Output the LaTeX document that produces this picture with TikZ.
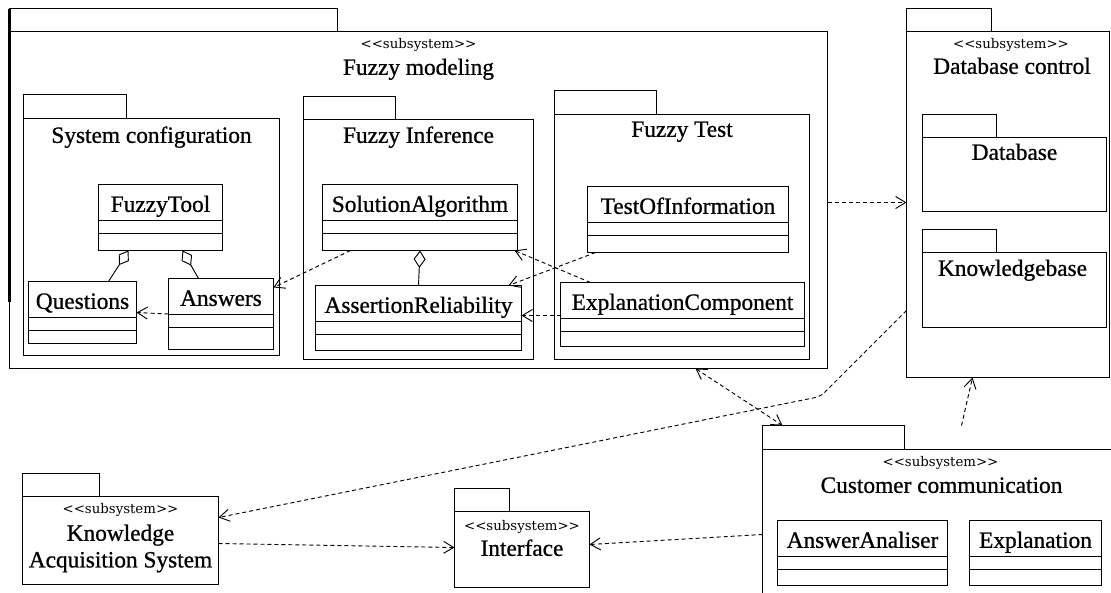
\documentclass[tikz,border=0pt]{standalone}
\usepackage{fontspec}
\setmainfont{Liberation Serif}
\newfontfamily\umlfont{Liberation Serif}[FakeBold=0.8]
\newfontfamily\stereofont{DejaVu Serif}
\usetikzlibrary{arrows.meta,calc,fit}

\tikzset{
  pkgbox/.style={draw,inner sep=0pt,outer sep=0pt,line width=0.75pt},
  classbox/.style={draw,inner sep=0pt,outer sep=0pt,line width=0.75pt},
  title/.style={inner sep=0pt,font=\umlfont\fontsize{17.5pt}{20pt}\selectfont,text height=14pt,text depth=3pt},
  twolines/.style={inner sep=0pt,font=\umlfont\fontsize{17.5pt}{20pt}\selectfont,align=center},
  stereo/.style={inner sep=0pt,font=\stereofont\fontsize{10pt}{11pt}\selectfont,text height=8.5pt,text depth=1.5pt},
  barb/.tip={Straight Barb[length=7.5pt,width=9pt,line width=0.7pt]},
  dep/.style={line width=0.7pt,dash pattern=on 3pt off 2.25pt,-barb},
  depboth/.style={line width=0.7pt,dash pattern=on 3pt off 2.25pt,barb-barb},
  aggr/.style={line width=0.7pt,-{Diamond[open,length=13pt,width=9pt,line width=0.7pt]}}
}

% id, tab corner, tab/body corner, body corner
\newcommand{\umlpkg}[4]{%
  \node[pkgbox,fit={#2 #3}] (#1-tab) {};
  \node[pkgbox,fit={(#1-tab.south west) #4}] (#1) {};
}
% id, corner, corner, name
\newcommand{\umlclass}[4]{%
  \node[classbox,fit={#2 #3}] (#1) {};
  \node[title] (#1-name) at ($(#1.north)+(0,20)$) {#4};
  \draw[line width=0.75pt] ($(#1.north west)+(0,36)$) -- ($(#1.north east)+(0,36)$);
  \draw[line width=0.75pt] ($(#1.north west)+(0,49)$) -- ($(#1.north east)+(0,49)$);
}

\begin{document}
\begin{tikzpicture}[x=0.75pt,y=-0.75pt]
  \fill[white] (0,0) rectangle (1111,593);
  \clip (0,0) rectangle (1111,593);
  \begin{scope}[shift={(0.5,0.5)}]

  % packages
  \umlpkg{fuzzy}{(9,8)}{(337,31)}{(827,368)}
  \draw[line width=2pt] (fuzzy-tab.north west) -- ($(fuzzy-tab.north west)+(0,293)$);
  \node[stereo] (fuzzy-st) at ($(fuzzy.north)+(0,12)$) {<<subsystem>>};
  \node[title] (fuzzy-title) at ($(fuzzy.north)+(0,36)$) {Fuzzy modeling};

  \umlpkg{sysconf}{(23,94)}{(126,118)}{(279,355)}
  \node[title] (sysconf-title) at ($(sysconf.north)+(0,17)$) {System configuration};
  \umlpkg{fuzzyinf}{(303,96)}{(395,119)}{(533,359)}
  \node[title] (fuzzyinf-title) at ($(fuzzyinf.north)+(0,16)$) {Fuzzy Inference};
  \umlpkg{fuzzytest}{(554,90)}{(656,114)}{(809,359)}
  \node[title] (fuzzytest-title) at ($(fuzzytest.north)+(0,15)$) {Fuzzy Test};

  \umlpkg{dbctl}{(906,8)}{(991,31)}{(1109,377)}
  \node[stereo] (dbctl-st) at ($(dbctl.north)+(3,12)$) {<<subsystem>>};
  \node[title] (dbctl-title) at ($(dbctl.north)+(4,35)$) {Database control};
  \umlpkg{database}{(922,114)}{(996,137)}{(1106,211)}
  \node[title] (database-title) at ($(database.north)+(0,15)$) {Database};
  \umlpkg{kbase}{(922,229)}{(996,252)}{(1106,327)}
  \node[title] (kbase-title) at ($(kbase.north)+(-2,16)$) {Knowledgebase};

  \umlpkg{cust}{(762,425)}{(904,449)}{(1125,620)}
  \node[stereo] (cust-st) at ($(cust.north west)+(178,12)$) {<<subsystem>>};
  \node[title] (cust-title) at ($(cust.north west)+(179,36)$) {Customer communication};

  \umlpkg{iface}{(454,488)}{(509,511)}{(589,587)}
  \node[stereo] (iface-st) at ($(iface.north)+(0,14)$) {<<subsystem>>};
  \node[title] (iface-title) at ($(iface.north)+(0,37)$) {Interface};

  \umlpkg{kas}{(22,473)}{(99,496)}{(218,584)}
  \node[stereo] (kas-st) at ($(kas.north)+(0,12)$) {<<subsystem>>};
  \node[twolines] (kas-title) at ($(kas.north)+(0,52)$) {Knowledge\\Acquisition System};

  % classes
  \umlclass{fuzzytool}{(98,184)}{(222,250)}{FuzzyTool}
  \umlclass{questions}{(28,281)}{(136,343)}{Questions}
  \umlclass{answers}{(168,278)}{(273,349)}{Answers}
  \umlclass{solalg}{(322,184)}{(517,250)}{SolutionAlgorithm}
  \umlclass{assrel}{(315,285)}{(521,350)}{AssertionReliability}
  \umlclass{testinfo}{(587,186)}{(788,252)}{TestOfInformation}
  \umlclass{expcomp}{(560,282)}{(804,346)}{ExplanationComponent}
  \umlclass{answan}{(777,520)}{(947,585)}{AnswerAnaliser}
  \umlclass{expl}{(969,520)}{(1101,585)}{Explanation}

  % connectors
  \draw[aggr] ($(questions.north west)+(80,0)$) -- ($(fuzzytool.south west)+(30,0)$);
  \draw[aggr] ($(answers.north west)+(30,0)$) -- ($(fuzzytool.south west)+(84,0)$);
  \draw[aggr] (assrel.north) -- (solalg.south);
  \draw[dep] (answers.west) -- (questions.east);
  \draw[dep] ($(solalg.south west)+(28,0)$) -- ($(answers.north east)+(0,9)$);
  \draw[dep] ($(expcomp.north west)+(30,0)$) -- ($(solalg.south east)+(-3,0)$);
  \draw[dep] ($(testinfo.south west)+(8,0)$) -- ($(assrel.north east)+(-13,0)$);
  \draw[dep] ($(expcomp.north west)+(0,33)$) -- ($(assrel.north east)+(0,30)$);
  \draw[dep] ($(fuzzy.north east)+(0,171)$) -- ($(dbctl.north west)+(0,171)$);
  \coordinate (bend) at (820,396);
  \draw[dep,rounded corners=4pt] ($(dbctl.south west)+(0,-67)$) -- (bend) -- ($(kas.north east)+(0,21)$);
  \draw[depboth] ($(fuzzy.south west)+(686,0)$) -- ($(cust-tab.north west)+(20,0)$);
  \draw[dep] ($(cust-tab.north west)+(199,0)$) -- ($(dbctl.south west)+(66,0)$);
  \draw[dep] ($(cust.north west)+(0,85)$) -- ($(iface.east)+(0,-5)$);
  \draw[dep] ($(kas.east)+(0,3)$) -- ($(iface.west)+(0,-2)$);
  \end{scope}
\end{tikzpicture}
\end{document}
